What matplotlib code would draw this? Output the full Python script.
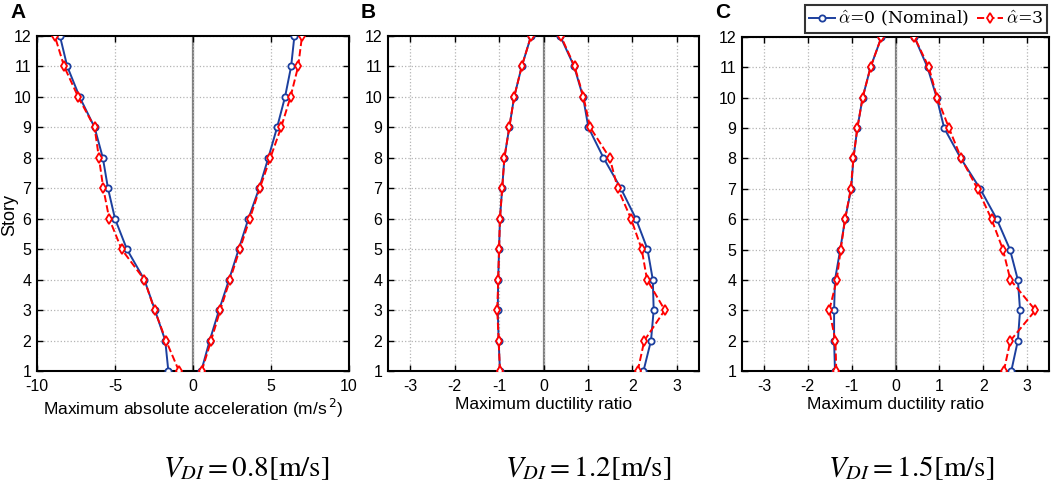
import matplotlib.pyplot as plt
from matplotlib.font_manager import FontProperties

plt.rcParams['font.family'] = ['Liberation Sans', 'DejaVu Sans']
plt.rcParams['axes.unicode_minus'] = False

story = list(range(1, 13))

# panel A: maximum absolute acceleration (m/s^2)
a_nom_neg = [-1.58, -1.78, -2.44, -3.12, -4.24, -5.00, -5.45, -5.78, -6.31, -7.27, -8.06, -8.53]
a_nom_pos = [0.53, 1.07, 1.67, 2.31, 2.93, 3.55, 4.24, 4.83, 5.39, 5.90, 6.29, 6.50]
a_a3_neg = [-0.90, -1.73, -2.46, -3.12, -4.58, -5.37, -5.75, -6.03, -6.31, -7.36, -8.26, -8.86]
a_a3_pos = [0.56, 1.16, 1.75, 2.37, 3.00, 3.64, 4.28, 4.96, 5.65, 6.25, 6.74, 6.99]

# panel B: maximum ductility ratio, V_DI = 1.2
b_nom_neg = [-0.98, -1.01, -1.03, -1.02, -1.00, -0.98, -0.93, -0.88, -0.77, -0.66, -0.49, -0.28]
b_nom_pos = [2.25, 2.42, 2.48, 2.46, 2.34, 2.08, 1.74, 1.35, 1.01, 0.89, 0.69, 0.375]
b_a3_neg = [-0.98, -1.01, -1.04, -1.02, -1.00, -0.98, -0.93, -0.88, -0.77, -0.66, -0.49, -0.28]
b_a3_pos = [2.12, 2.27, 2.73, 2.33, 2.21, 1.97, 1.67, 1.49, 1.05, 0.90, 0.70, 0.39]

# panel C: maximum ductility ratio, V_DI = 1.5
c_nom_neg = [-1.38, -1.40, -1.40, -1.38, -1.26, -1.15, -1.01, -0.96, -0.87, -0.75, -0.57, -0.32]
c_nom_pos = [2.64, 2.79, 2.84, 2.79, 2.61, 2.31, 1.93, 1.49, 1.11, 0.94, 0.73, 0.43]
c_a3_neg = [-1.35, -1.37, -1.51, -1.34, -1.25, -1.15, -1.02, -0.96, -0.87, -0.75, -0.57, -0.32]
c_a3_pos = [2.47, 2.62, 3.19, 2.62, 2.45, 2.19, 1.87, 1.50, 1.22, 0.95, 0.76, 0.43]

panels = [
    ('A', (a_nom_neg, a_nom_pos, a_a3_neg, a_a3_pos), (-10, 10), [-10, -5, 0, 5, 10],
     r'Maximum absolute acceleration (m/s$^{\,2}$)', r'$V_{DI}=0.8[\mathrm{m/s}]$'),
    ('B', (b_nom_neg, b_nom_pos, b_a3_neg, b_a3_pos), (-3.5, 3.5), [-3, -2, -1, 0, 1, 2, 3],
     'Maximum ductility ratio', r'$V_{DI}=1.2[\mathrm{m/s}]$'),
    ('C', (c_nom_neg, c_nom_pos, c_a3_neg, c_a3_pos), (-3.5, 3.5), [-3, -2, -1, 0, 1, 2, 3],
     'Maximum ductility ratio', r'$V_{DI}=1.5[\mathrm{m/s}]$'),
]

W, H = 1052, 488
boxes = [(37, 349, 36, 371), (388, 699, 36, 371), (742, 1049, 37, 371)]
bottom_text_x = [246, 588, 911]

blue = '#1c3f9e'
red = '#ff0000'

fig = plt.figure(figsize=(W / 100, H / 100), dpi=100)

for i, (letter, series, xlim, xticks, xlabel, vtext) in enumerate(panels):
    x0, x1, y0, y1 = boxes[i]
    ax = fig.add_axes([x0 / W, 1 - y1 / H, (x1 - x0) / W, (y1 - y0) / H])
    nom_neg, nom_pos, a3_neg, a3_pos = series

    ax.axvline(0, color='#7f7f7f', lw=1.6, zorder=1)
    for xs in (nom_neg, nom_pos):
        ax.plot(xs, story, '-', color=blue, lw=1.4, marker='o', ms=4.5,
                mfc='white', mec=blue, mew=1.3, zorder=3)
    for xs in (a3_neg, a3_pos):
        ax.plot(xs, story, '--', color=red, lw=1.4, marker='d', ms=5,
                mfc='white', mec=red, mew=1.3, zorder=4)

    ax.set_xlim(*xlim)
    ax.set_ylim(1, 12)
    ax.set_xticks(xticks)
    ax.set_yticks(story)
    ax.grid(True, ls=':', color='#b4b4b4', lw=0.9)
    ax.tick_params(direction='in', length=4, width=1, top=True, right=True,
                   labelsize=11.5, pad=4)
    ax.tick_params(axis='x', pad=6)
    for sp in ax.spines.values():
        sp.set_linewidth(1.5)
    ax.set_xlabel(xlabel, fontsize=12.5, labelpad=2)

    fig.text((x0 - 27) / W, 1 - 12 / H, letter, fontsize=15, fontweight='bold',
             ha='left', va='center')
    fig.text(bottom_text_x[i] / W, 1 - 468 / H, vtext, fontsize=21,
             ha='center', va='center', math_fontfamily='stix')

fig.text(10 / W, 1 - 215 / H, 'Story', fontsize=13, rotation=90,
         ha='center', va='center')

# legend across the top of panel C
h1, = ax.plot([], [], '-', color=blue, lw=1.4, marker='o', ms=4.5,
              mfc='white', mec=blue, mew=1.3)
h2, = ax.plot([], [], '--', color=red, lw=1.4, marker='d', ms=5,
              mfc='white', mec=red, mew=1.3)
leg_font = FontProperties(family='DejaVu Serif', size=12.5, math_fontfamily='cm')
leg = fig.legend([h1, h2], [r'$\hat{\alpha}$=0 (Nominal)', r'$\hat{\alpha}$=3'],
                 loc='center right', bbox_to_anchor=(1047 / W, 1 - 19 / H),
                 ncol=2, prop=leg_font, frameon=True, fancybox=False,
                 handlelength=1.5, handletextpad=0.2, columnspacing=0.4,
                 borderpad=0.2, borderaxespad=0, numpoints=1)
leg.get_frame().set_edgecolor('black')
leg.get_frame().set_linewidth(1.5)

fig.savefig('out.png', dpi=100)
